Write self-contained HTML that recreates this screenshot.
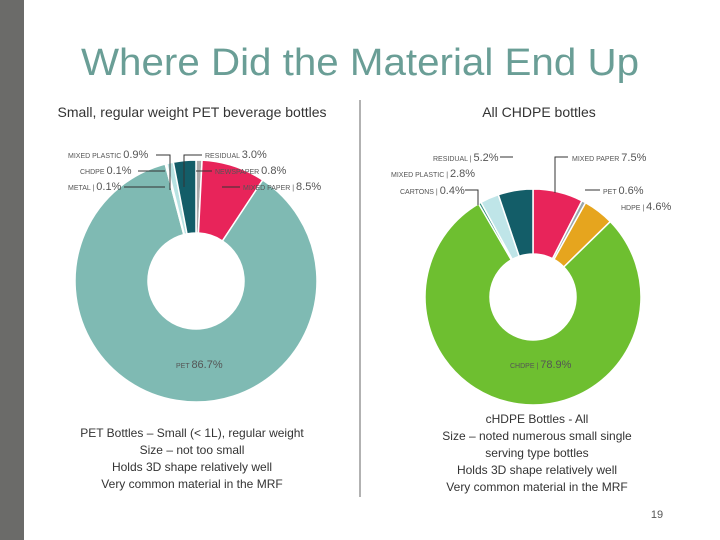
<!DOCTYPE html>
<html><head><meta charset="utf-8"><style>
body{margin:0;background:#fff;}
svg{display:block;font-family:"Liberation Sans",sans-serif;}
</style></head><body>
<svg id="chart" width="720" height="540" viewBox="0 0 720 540">
<rect x="0" y="0" width="24" height="540" fill="#6b6b69"/>
<text x="360" y="75" text-anchor="middle" font-size="38" fill="#6a9e96" textLength="558" lengthAdjust="spacingAndGlyphs">Where Did the Material End Up</text>
<text x="192" y="117" text-anchor="middle" font-size="14" fill="#333">Small, regular weight PET beverage bottles</text>
<text x="539" y="117" text-anchor="middle" font-size="14" fill="#333">All CHDPE bottles</text>
<line x1="360" y1="100" x2="360" y2="497" stroke="#999" stroke-width="1.5"/>
<g id="left"></g>
<g id="right"></g>
<g font-size="7" fill="#555">
<text x="68" y="158">MIXED PLASTIC <tspan font-size="11">0.9%</tspan></text>
<text x="80" y="174">CHDPE <tspan font-size="11">0.1%</tspan></text>
<text x="68" y="190">METAL | <tspan font-size="11">0.1%</tspan></text>
<text x="205" y="158">RESIDUAL <tspan font-size="11">3.0%</tspan></text>
<text x="215" y="174">NEWSPAPER <tspan font-size="11">0.8%</tspan></text>
<text x="243" y="190">MIXED PAPER | <tspan font-size="11">8.5%</tspan></text>
<text x="176" y="368">PET <tspan font-size="11">86.7%</tspan></text>
</g>
<g stroke="#333" stroke-width="1" fill="none">
<polyline points="156,155 170,155 170,190"/><line x1="138" y1="171" x2="165" y2="171"/><line x1="124" y1="187" x2="165" y2="187"/>
<polyline points="202,155 184,155 184,187"/><line x1="212" y1="171" x2="196" y2="171"/><line x1="240" y1="187" x2="222" y2="187"/>
</g>
<g font-size="7" fill="#555">
<text x="433" y="161">RESIDUAL | <tspan font-size="11">5.2%</tspan></text>
<text x="391" y="177">MIXED PLASTIC | <tspan font-size="11">2.8%</tspan></text>
<text x="400" y="194">CARTONS | <tspan font-size="11">0.4%</tspan></text>
<text x="572" y="161">MIXED PAPER <tspan font-size="11">7.5%</tspan></text>
<text x="603" y="194">PET <tspan font-size="11">0.6%</tspan></text>
<text x="621" y="210">HDPE | <tspan font-size="11">4.6%</tspan></text>
<text x="510" y="368">CHDPE | <tspan font-size="11">78.9%</tspan></text>
</g>
<g stroke="#333" stroke-width="1" fill="none">
<line x1="500" y1="157" x2="513" y2="157"/><polyline points="465,190 478,190 478,205"/>
<polyline points="568,157 555,157 555,193"/><line x1="600" y1="190" x2="585" y2="190"/>
</g>
<g font-size="12" fill="#333" text-anchor="middle">
<text x="192" y="437">PET Bottles – Small (&lt; 1L), regular weight</text>
<text x="192" y="454">Size – not too small</text>
<text x="192" y="471">Holds 3D shape relatively well</text>
<text x="192" y="488">Very common material in the MRF</text>
</g>
<g font-size="12" fill="#333" text-anchor="middle">
<text x="537" y="423">cHDPE Bottles - All</text>
<text x="537" y="440">Size – noted numerous small single</text>
<text x="537" y="457">serving type bottles</text>
<text x="537" y="474">Holds 3D shape relatively well</text>
<text x="537" y="491">Very common material in the MRF</text>
</g>
<text x="657" y="518" text-anchor="middle" font-size="11" fill="#555">19</text>
</svg>
<script>
const leftCategories=["Newspaper","Mixed Paper","PET","Metal","CHDPE","Mixed Plastic","Residual"];
const leftValues=[0.8,8.5,86.7,0.1,0.1,0.9,3.0];
const leftColors=["#a9a9a9","#e8245a","#7fbab3","#5aa9a0","#8fcfc8","#b8e3e3","#135d68"];
const rightCategories=["Mixed Paper","PET","HDPE","CHDPE","Cartons","Mixed Plastic","Residual"];
const rightValues=[7.5,0.6,4.6,78.9,0.4,2.8,5.2];
const rightColors=["#e8245a","#9aa7ad","#e6a51e","#6ebf30","#2f8f7a","#bfe5e8","#135d68"];
const NS="http://www.w3.org/2000/svg";
function donut(gid,cx,cy,R,r,cats,vals,cols){
  const g=document.getElementById(gid);
  const tot=vals.reduce((a,b)=>a+b,0);
  let a0=-Math.PI/2;
  vals.forEach((v,i)=>{
    const a1=a0+v/tot*2*Math.PI;
    const lg=(a1-a0)>Math.PI?1:0;
    const p=(rad,a)=>[cx+rad*Math.cos(a),cy+rad*Math.sin(a)];
    const [x1,y1]=p(R,a0),[x2,y2]=p(R,a1),[x3,y3]=p(r,a1),[x4,y4]=p(r,a0);
    const el=document.createElementNS(NS,"path");
    el.setAttribute("d",`M${x1},${y1}A${R},${R} 0 ${lg} 1 ${x2},${y2}L${x3},${y3}A${r},${r} 0 ${lg} 0 ${x4},${y4}Z`);
    el.setAttribute("fill",cols[i]);
    el.setAttribute("stroke","#fff");
    el.setAttribute("stroke-width","1.5");
    
    
    g.appendChild(el);
    a0=a1;
  });
}
donut("left",196,281,121,48,leftCategories,leftValues,leftColors);
donut("right",533,297,108,43,rightCategories,rightValues,rightColors);
</script>
</body></html>
